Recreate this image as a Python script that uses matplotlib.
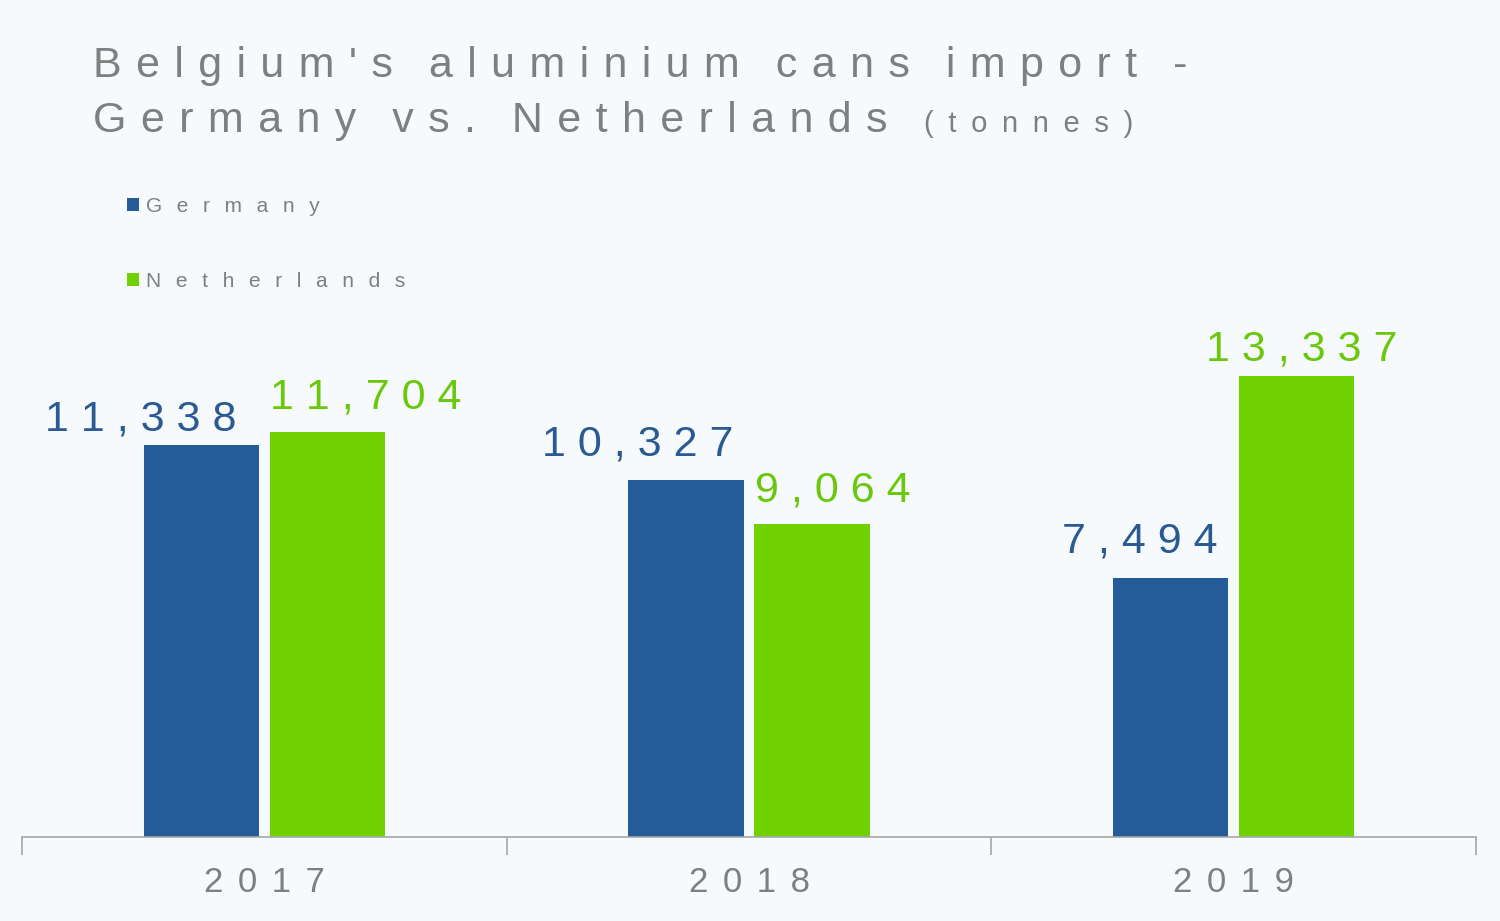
import numpy as np
import matplotlib.pyplot as plt
from matplotlib.transforms import offset_copy

plt.rcParams['font.family'] = ['Liberation Sans', 'DejaVu Sans']

# Data
years = ['2017', '2018', '2019']
germany = [11338, 10327, 7494]
netherlands = [11704, 9064, 13337]
series_names = ['Germany', 'Netherlands']

BG = '#F7FAFD'
BLUE = '#245B99'
GREEN = '#6FD200'
BLUE_TXT = '#2A5A92'
GREEN_TXT = '#6AC80C'
GRAY = '#7F7F7F'


def spaced(s, gap=' ', word_gap='   '):
    # mimic the wide letter spacing of the original
    return word_gap.join(gap.join(w) for w in s.split(' '))


fig = plt.figure(figsize=(15, 9.21), dpi=100, facecolor=BG)
ax = fig.add_axes([22 / 1500, 84 / 921, 1454 / 1500, 537 / 921])
ax.set_facecolor(BG)

x = np.arange(len(years))
w = 0.238
off = 0.13
b1 = ax.bar(x - off, germany, w, color=BLUE, label=spaced(series_names[0], '\u2002\u2009'))
b2 = ax.bar(x + off, netherlands, w, color=GREEN, label=spaced(series_names[1], '\u2002\u2009'))

ax.set_xlim(-0.5, len(years) - 0.5)
ax.set_ylim(0, 537 / 0.03457)

# value labels (nudged in pixels the way the original places them)
label_dx = {0: [-61, -48, -31], 1: [38, 21, 5]}
label_dy = {0: [15, 24, 25], 1: [24, 22, 15]}
for k, (bars, vals, col) in enumerate([(b1, germany, BLUE_TXT), (b2, netherlands, GREEN_TXT)]):
    for i, (rect, v) in enumerate(zip(bars, vals)):
        tr = offset_copy(ax.transData, fig=fig, x=label_dx[k][i], y=label_dy[k][i], units='dots')
        ax.text(rect.get_x() + rect.get_width() / 2, v, spaced(f'{v:,}'), transform=tr,
                ha='center', va='baseline', fontsize=31, color=col)

# axes styling
for s in ['top', 'right', 'left']:
    ax.spines[s].set_visible(False)
ax.spines['bottom'].set_color('#A6A6A6')
ax.spines['bottom'].set_linewidth(1.2)
ax.set_yticks([])
ax.set_xticks(x)
ax.set_xticklabels([spaced(y, '\u2004\u200a') for y in years], fontsize=25, color=GRAY)
ax.tick_params(axis='x', which='major', length=0, pad=21)
ax.set_xticks(np.arange(len(years) + 1) - 0.5, minor=True)
ax.tick_params(axis='x', which='minor', length=13, color='#A6A6A6', width=1.2)

# title
fig.text(93 / 1500, 1 - 77 / 921, spaced("Belgium's aluminium cans import -", '\u2004'),
         fontsize=31, color=GRAY, ha='left', va='baseline')
t2 = fig.text(93 / 1500, 1 - 132 / 921, spaced('Germany vs. Netherlands', '\u2004'),
              fontsize=31, color=GRAY, ha='left', va='baseline')
fig.canvas.draw()
bb = t2.get_window_extent()
fig.text((bb.x1 + 36) / 1500, 1 - 132 / 921, spaced('(tonnes)', '\u2002'),
         fontsize=21, color=GRAY, ha='left', va='baseline')

# legend
fig.legend(handles=[b1, b2], loc='upper left', bbox_to_anchor=(108 / 1500, 1 - 178 / 921),
           frameon=False, fontsize=15, labelcolor=GRAY, handlelength=0.6,
           handleheight=0.6, handletextpad=0.3, labelspacing=2.7)

fig.savefig('out.png', dpi=100, facecolor=BG)
